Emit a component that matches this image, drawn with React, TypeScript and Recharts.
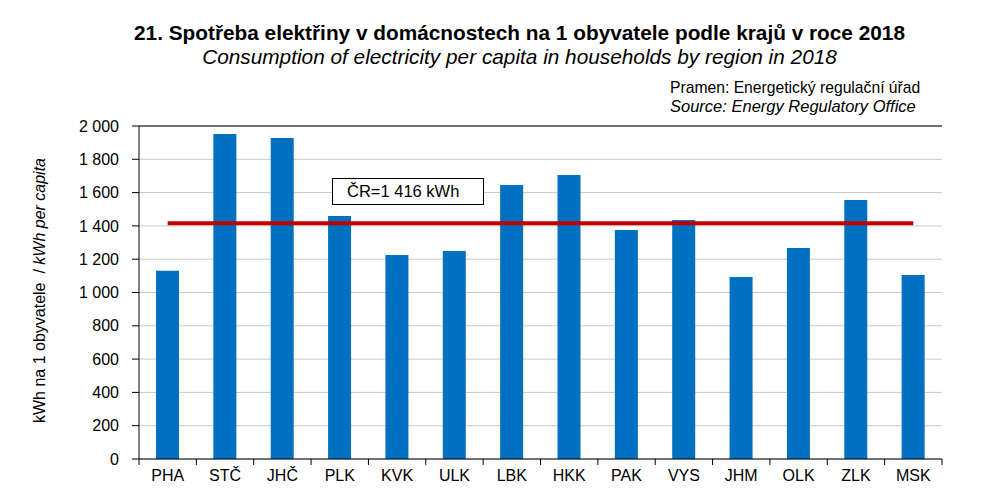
import { ComposedChart, Bar, Line, XAxis, YAxis, CartesianGrid, ReferenceLine } from 'recharts'

const regions = ['PHA', 'STČ', 'JHČ', 'PLK', 'KVK', 'ULK', 'LBK', 'HKK', 'PAK', 'VYS', 'JHM', 'OLK', 'ZLK', 'MSK']
const perCapita = [1130, 1952, 1928, 1459, 1225, 1249, 1646, 1706, 1375, 1435, 1093, 1267, 1556, 1105]
const crAverage = 1416
const yTicks = [0, 200, 400, 600, 800, 1000, 1200, 1400, 1600, 1800, 2000]

const data = regions.map((r, i) => ({ region: r, value: perCapita[i], cr: crAverage }))

const font = 'Arial, "Liberation Sans", sans-serif'
const fmt = (v: number) => String(v).replace(/\B(?=(\d{3})+(?!\d))/g, ' ')

const TICK_SIZE = 6
const TICK_MARGIN = 4

function RegionTick(props: any) {
  const { x, y, payload, index, width, visibleTicksCount } = props
  const band = width / visibleTicksCount
  const axisY = y - TICK_SIZE - TICK_MARGIN
  return (
    <g>
      <line x1={x - band / 2} x2={x - band / 2} y1={axisY} y2={axisY + TICK_SIZE} stroke="#000" />
      {index === visibleTicksCount - 1 && (
        <line x1={x + band / 2} x2={x + band / 2} y1={axisY} y2={axisY + TICK_SIZE} stroke="#000" />
      )}
      <text x={x} y={y} dy={12} textAnchor="middle" fontSize={16} fontFamily={font} fill="#000">
        {payload.value}
      </text>
    </g>
  )
}

function AxisTitle(props: any) {
  const { viewBox } = props
  const cx = 45
  const cy = viewBox.y + viewBox.height / 2 - 2
  return (
    <text
      x={cx}
      y={cy}
      transform={`rotate(-90 ${cx} ${cy})`}
      textAnchor="middle"
      fontSize={16}
      fontFamily={font}
      fill="#000"
      style={{ whiteSpace: 'pre' }}
    >
      <tspan>{'kWh na 1 obyvatele  / '}</tspan>
      <tspan fontStyle="italic">kWh per capita</tspan>
    </text>
  )
}

export default function App() {
  return (
    <div style={{ position: 'absolute', left: 0, top: 0, width: 1004, height: 502, background: '#fff', fontFamily: font }}>
      <div style={{ position: 'absolute', top: 21, width: 1039, textAlign: 'center', fontSize: 20.8, fontWeight: 700 }}>
        21. Spotřeba elektřiny v domácnostech na 1 obyvatele podle krajů v roce 2018
      </div>
      <div style={{ position: 'absolute', top: 45, width: 1039, textAlign: 'center', fontSize: 20.8, fontStyle: 'italic' }}>
        Consumption of electricity per capita in households by region in 2018
      </div>
      <div style={{ position: 'absolute', top: 78, left: 670, fontSize: 15.7, lineHeight: '19px' }}>
        <div>Pramen: Energetický regulační úřad</div>
        <div style={{ fontStyle: 'italic', fontSize: 16.5 }}>Source: Energy Regulatory Office</div>
      </div>
      <ComposedChart width={1004} height={502} data={data} margin={{ top: 126, right: 62, bottom: 13, left: 79 }}>
        <CartesianGrid vertical={false} stroke="#c8c8c8" />
        <XAxis
          dataKey="region"
          height={30}
          axisLine={{ stroke: '#000' }}
          tickLine={false}
          tickSize={TICK_SIZE}
          tickMargin={TICK_MARGIN}
          interval={0}
          tick={<RegionTick />}
        />
        <YAxis
          width={60}
          domain={[0, 2000]}
          ticks={yTicks}
          interval={0}
          tickFormatter={fmt}
          axisLine={{ stroke: '#000' }}
          tickLine={{ stroke: '#000' }}
          tickSize={7}
          tickMargin={13}
          tick={{ fontSize: 16, fill: '#000', fontFamily: font }}
          label={<AxisTitle />}
        />
        <YAxis yAxisId="right" orientation="right" width={0} domain={[0, 2000]} tick={false} tickLine={false} axisLine={{ stroke: '#000' }} />
        <ReferenceLine y={2000} stroke="#000" />
        <Bar dataKey="value" fill="#0070c0" barSize={23} isAnimationActive={false} />
        <Line dataKey="cr" stroke="#c00000" strokeWidth={4} dot={false} activeDot={false} isAnimationActive={false} />
      </ComposedChart>
      <div
        style={{
          position: 'absolute', left: 332, top: 178, width: 136, height: 25, border: '1px solid #000', background: '#fff',
          fontSize: 16.5, lineHeight: '25px', paddingLeft: 14,
        }}
      >
        ČR=1 416 kWh
      </div>
    </div>
  )
}
